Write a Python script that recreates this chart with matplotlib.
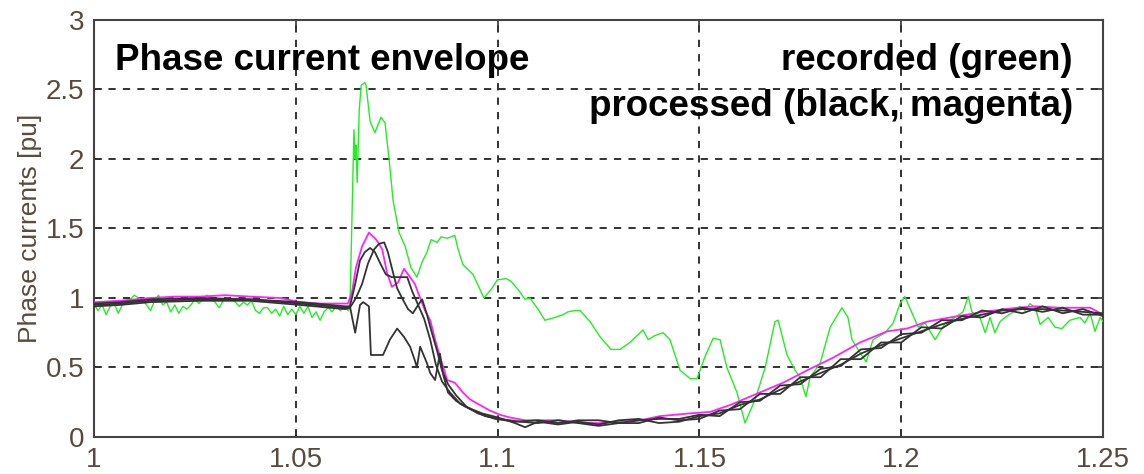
import numpy as np
import matplotlib
matplotlib.use('Agg')
import matplotlib.pyplot as plt

# recorded phase current (green)
t_pre = np.round(np.arange(1.0, 1.0635, 0.001), 4)
green_pre = [0.95, 0.91, 0.95, 0.88, 0.94, 0.96, 0.89, 0.95, 0.96, 0.99,
             1.02, 1.00, 0.99, 0.95, 0.91, 0.98, 1.02, 0.95, 0.97, 0.90,
             0.95, 0.89, 0.94, 0.92, 0.95, 0.99, 0.96, 1.00, 1.02, 0.99,
             0.97, 0.93, 0.98, 1.00, 0.99, 0.97, 0.94, 0.97, 0.95, 0.98,
             0.91, 0.89, 0.93, 0.93, 0.89, 0.92, 0.87, 0.94, 0.88, 0.92,
             0.88, 0.94, 0.89, 0.94, 0.86, 0.90, 0.84, 0.90, 0.93, 0.90,
             0.94, 0.91, 0.93, 0.91]
t_green = [1.0634, 1.0639, 1.0644, 1.0647, 1.0649, 1.0652, 1.0657, 1.0662, 1.0671, 1.0674,
           1.0684, 1.0696, 1.0711, 1.0721, 1.0731, 1.0741, 1.0756, 1.0771, 1.0785, 1.0800,
           1.0813, 1.0825, 1.0835, 1.0850, 1.0860, 1.0875, 1.0894, 1.0902, 1.0914, 1.0939,
           1.0966, 1.0986, 1.0999, 1.1021, 1.1033, 1.1051, 1.1068, 1.1080, 1.1100, 1.1117,
           1.1142, 1.1162, 1.1174, 1.1192, 1.1204, 1.1229, 1.1254, 1.1281, 1.1303, 1.1328,
           1.1360, 1.1373, 1.1390, 1.1410, 1.1427, 1.1452, 1.1477, 1.1494, 1.1514, 1.1534,
           1.1551, 1.1568, 1.1593, 1.1613, 1.1638, 1.1663, 1.1687, 1.1695, 1.1717, 1.1737,
           1.1749, 1.1764, 1.1774, 1.1799, 1.1824, 1.1853, 1.1868, 1.1878, 1.1893, 1.1913,
           1.1930, 1.1960, 1.1980, 1.1997, 1.2009, 1.2027, 1.2042, 1.2059, 1.2084, 1.2109,
           1.2133, 1.2153, 1.2166, 1.2175, 1.2195, 1.2208, 1.2220, 1.2232, 1.2245, 1.2257,
           1.2277, 1.2294, 1.2307, 1.2319, 1.2332, 1.2344, 1.2364, 1.2381, 1.2398, 1.2418,
           1.2443, 1.2455, 1.2468, 1.2480, 1.2493, 1.2500]
green_post = [0.93, 1.56, 2.21, 2.00, 2.10, 1.83, 2.35, 2.53, 2.55, 2.53,
              2.27, 2.19, 2.30, 2.26, 2.00, 1.70, 1.47, 1.37, 1.22, 1.15,
              1.26, 1.33, 1.42, 1.40, 1.44, 1.43, 1.45, 1.35, 1.24, 1.17,
              1.00, 1.07, 1.13, 1.14, 1.12, 1.06, 0.99, 1.00, 0.92, 0.84,
              0.86, 0.88, 0.90, 0.91, 0.91, 0.83, 0.72, 0.63, 0.63, 0.68,
              0.77, 0.70, 0.73, 0.75, 0.70, 0.48, 0.42, 0.42, 0.58, 0.71,
              0.70, 0.50, 0.32, 0.10, 0.27, 0.50, 0.83, 0.84, 0.59, 0.48,
              0.43, 0.29, 0.43, 0.53, 0.79, 0.93, 0.86, 0.70, 0.63, 0.54,
              0.70, 0.75, 0.82, 0.96, 1.01, 0.89, 0.79, 0.82, 0.70, 0.82,
              0.86, 0.90, 1.01, 0.90, 0.86, 0.75, 0.86, 0.75, 0.83, 0.86,
              0.90, 0.94, 0.91, 0.96, 0.93, 0.81, 0.86, 0.79, 0.78, 0.84,
              0.86, 0.82, 0.89, 0.76, 0.86, 0.83]

# processed envelope (magenta)
t_mag = [1.0, 1.0064, 1.0139, 1.0201, 1.0263, 1.0325, 1.0387, 1.0461, 1.0510, 1.0560,
         1.0629, 1.0639, 1.0649, 1.0664, 1.0681, 1.0696, 1.0704, 1.0714, 1.0726, 1.0738,
         1.0753, 1.0768, 1.0783, 1.0795, 1.0808, 1.0820, 1.0833, 1.0845, 1.0857, 1.0875,
         1.0894, 1.0914, 1.0932, 1.0956, 1.0981, 1.1006, 1.1031, 1.1068, 1.1155, 1.1204,
         1.1254, 1.1303, 1.1353, 1.1402, 1.1477, 1.1526, 1.1576, 1.1625, 1.1707, 1.1774,
         1.1831, 1.1898, 1.1965, 1.2014, 1.2064, 1.2121, 1.2203, 1.2287, 1.2332, 1.2393,
         1.2468, 1.25]
magenta = [0.97, 0.98, 1.00, 1.01, 1.01, 1.02, 1.01, 1.00, 0.97, 0.96,
           0.96, 1.04, 1.22, 1.37, 1.47, 1.43, 1.40, 1.35, 1.18, 1.08,
           1.11, 1.21, 1.15, 1.10, 1.00, 0.91, 0.84, 0.70, 0.58, 0.41,
           0.39, 0.32, 0.27, 0.23, 0.19, 0.16, 0.14, 0.12, 0.12, 0.10,
           0.10, 0.11, 0.12, 0.15, 0.17, 0.18, 0.23, 0.29, 0.39, 0.49,
           0.57, 0.68, 0.76, 0.78, 0.83, 0.86, 0.90, 0.93, 0.94, 0.93,
           0.93, 0.88]

# processed envelope (black, three phases)
t_blk_pre = [1.0, 1.0064, 1.0139, 1.0263, 1.0387, 1.0510, 1.0622, 1.0634]
t_blk_late = [1.11, 1.115, 1.12, 1.125, 1.13, 1.135, 1.14, 1.145,
              1.15, 1.155, 1.16, 1.165, 1.17, 1.175, 1.18, 1.185, 1.19, 1.195, 1.20,
              1.205, 1.21, 1.215, 1.22, 1.225, 1.23, 1.235, 1.24, 1.245, 1.25]

b1_pre = [0.95, 0.96, 0.98, 0.99, 0.99, 0.96, 0.93, 0.94]
t_b1 = [1.0647, 1.0659, 1.0671, 1.0684, 1.0696, 1.0709, 1.0723, 1.0738, 1.0776, 1.0788,
        1.0803, 1.0818, 1.0833, 1.0847, 1.0862, 1.0882, 1.0907, 1.0932, 1.0969, 1.1006,
        1.1055]
b1_mid = [1.10, 1.27, 1.33, 1.36, 1.33, 1.25, 1.17, 1.15, 1.15, 1.05,
          0.95, 0.85, 0.70, 0.52, 0.40, 0.32, 0.24, 0.20, 0.15, 0.13,
          0.11]
b1_late = [0.10, 0.12, 0.10, 0.08, 0.10, 0.12, 0.13, 0.13,
           0.16, 0.15, 0.25, 0.26, 0.37, 0.38, 0.49, 0.51, 0.63, 0.64, 0.74,
           0.75, 0.84, 0.84, 0.91, 0.89, 0.93, 0.90, 0.93, 0.88, 0.88]

b2_pre = [0.94, 0.95, 0.97, 0.98, 0.98, 0.95, 0.92, 0.93]
t_b2 = [1.0649, 1.0664, 1.0679, 1.0694, 1.0706, 1.0719, 1.0728, 1.0741, 1.0751, 1.0763,
        1.0778, 1.0790, 1.0803, 1.0813, 1.0825, 1.0837, 1.0850, 1.0862, 1.0877, 1.0897,
        1.0922, 1.0951, 1.0994, 1.1043]
b2_mid = [1.00, 1.10, 1.25, 1.35, 1.39, 1.40, 1.33, 1.18, 1.07, 1.00,
          0.92, 0.89, 0.95, 0.99, 0.88, 0.75, 0.62, 0.48, 0.38, 0.30,
          0.22, 0.17, 0.13, 0.11]
b2_late = [0.12, 0.10, 0.12, 0.12, 0.10, 0.10, 0.14, 0.12,
           0.13, 0.19, 0.20, 0.31, 0.31, 0.43, 0.43, 0.56, 0.56, 0.68, 0.68,
           0.79, 0.78, 0.87, 0.86, 0.92, 0.89, 0.94, 0.89, 0.92, 0.87]

b3_pre = [0.96, 0.97, 0.99, 1.00, 0.99, 0.97, 0.94, 0.94]
t_b3 = [1.0647, 1.0659, 1.0667, 1.0681, 1.0686, 1.0716, 1.0733, 1.0751, 1.0768, 1.0783,
        1.0795, 1.0800, 1.0808, 1.0815, 1.0825, 1.0833, 1.0845, 1.0857, 1.0865, 1.0877,
        1.0897, 1.0919, 1.0961, 1.1001, 1.1043, 1.1068]
b3_mid = [0.75, 0.95, 0.97, 0.94, 0.59, 0.59, 0.70, 0.78, 0.72, 0.65,
          0.55, 0.50, 0.65, 0.60, 0.53, 0.46, 0.41, 0.60, 0.45, 0.32,
          0.26, 0.22, 0.17, 0.14, 0.10, 0.07]
b3_late = [0.11, 0.09, 0.11, 0.09, 0.12, 0.13, 0.10, 0.11,
           0.15, 0.17, 0.23, 0.27, 0.34, 0.40, 0.46, 0.52, 0.60, 0.66, 0.71,
           0.76, 0.81, 0.85, 0.88, 0.91, 0.92, 0.92, 0.91, 0.90, 0.89]

xticks = [1.0, 1.05, 1.1, 1.15, 1.2, 1.25]
xticklabels = ['1', '1.05', '1.1', '1.15', '1.2', '1.25']
yticks = [0, 0.5, 1, 1.5, 2, 2.5, 3]
yticklabels = ['0', '0.5', '1', '1.5', '2', '2.5', '3']

label_col = '#5a4a3c'

fig = plt.figure(figsize=(11.44, 4.74), dpi=100)
ax = fig.add_axes([0.0822, 0.0781, 0.882, 0.8797])

ax.plot(list(t_pre) + t_green, green_pre + green_post, color='#22ee22', lw=1.0, zorder=3)
for tp, bp, tm, bm, bl in [(t_blk_pre, b1_pre, t_b1, b1_mid, b1_late),
                           (t_blk_pre, b2_pre, t_b2, b2_mid, b2_late),
                           (t_blk_pre, b3_pre, t_b3, b3_mid, b3_late)]:
    ax.plot(tp + tm + t_blk_late, bp + bm + bl, color='#333333', lw=1.3, zorder=4)
ax.plot(t_mag, magenta, color='#ff22ff', lw=1.3, zorder=3.5)

ax.set_xlim(1.0, 1.25)
ax.set_ylim(0, 3)
ax.set_xticks(xticks)
ax.set_xticklabels(xticklabels, fontfamily='Liberation Sans', fontsize=20, color=label_col)
ax.set_yticks(yticks)
ax.set_yticklabels(yticklabels, fontfamily='Liberation Sans', fontsize=20, color=label_col)
ax.tick_params(direction='in', length=6, width=1.2, top=True, right=True,
               color='#333333', pad=7)
ax.grid(True, color='#222222', linestyle=(0, (4, 4)), linewidth=1.3)
ax.set_axisbelow(True)
for s in ax.spines.values():
    s.set_color('#444444')
    s.set_linewidth(1.5)

ax.set_ylabel('Phase currents [pu]', fontsize=19, color=label_col,
              fontfamily='Liberation Sans')
ax.yaxis.set_label_coords(-0.052, 0.5)

ax.text(0.021, 0.880, 'Phase current envelope', transform=ax.transAxes,
        fontsize=26.5, fontweight='bold', fontfamily='Liberation Sans',
        ha='left', va='baseline', zorder=6)
ax.text(0.970, 0.880, 'recorded (green)', transform=ax.transAxes,
        fontsize=26.5, fontweight='bold', fontfamily='Liberation Sans',
        ha='right', va='baseline', zorder=6)
ax.text(0.970, 0.770, 'processed (black, magenta)', transform=ax.transAxes,
        fontsize=26.5, fontweight='bold', fontfamily='Liberation Sans',
        ha='right', va='baseline', zorder=6)

fig.savefig('out.png', dpi=100)
